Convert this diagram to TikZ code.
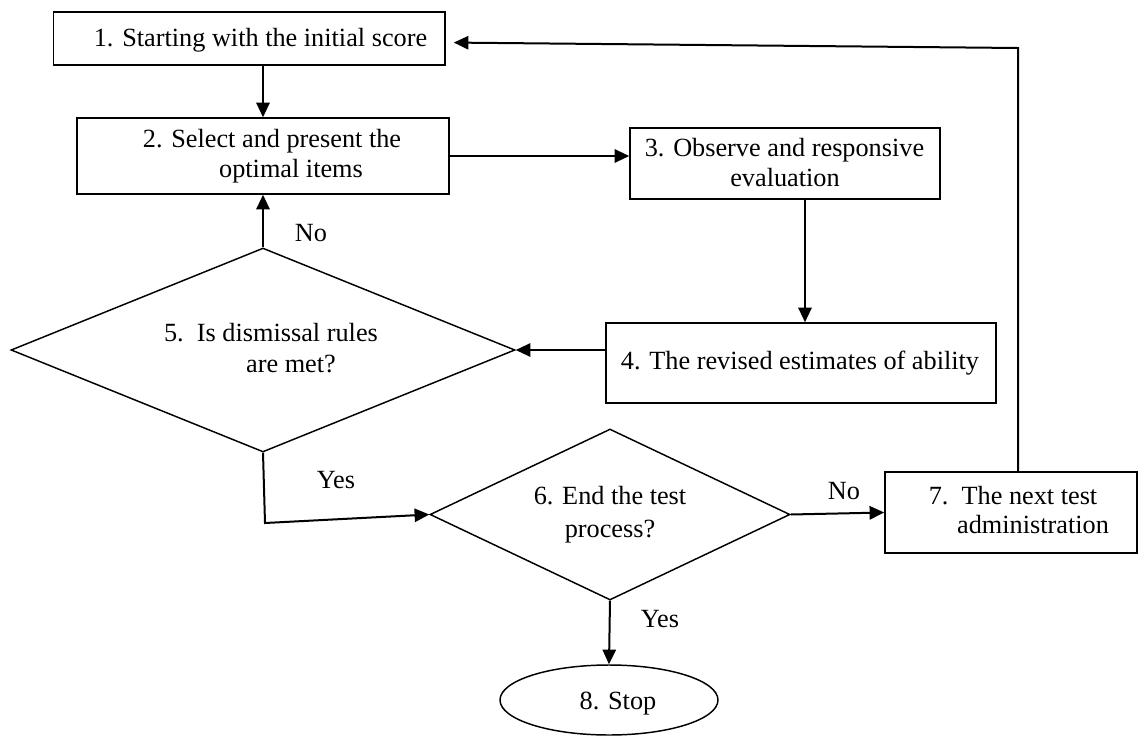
\documentclass[tikz,border=0pt]{standalone}
\usepackage{fontspec}
\setmainfont{Liberation Serif}
\usetikzlibrary{arrows.meta,shapes.geometric}
\begin{document}
\begin{tikzpicture}[x=0.75pt,y=-0.75pt,
  box/.style={draw, line width=1.1pt, rectangle, inner sep=0pt},
  dia/.style={draw, line width=1.1pt, diamond, inner sep=0pt},
  oval/.style={draw, line width=1.1pt, ellipse, inner sep=0pt},
  txt/.style={inner sep=0pt, text height=0.68em, text depth=0pt, font=\fontsize{19.7}{22}\selectfont},
  arr/.style={line width=1.5pt, -{Triangle[length=11pt,width=10pt]}},
  ln/.style={line width=1.5pt}]
\useasboundingbox (0,0) rectangle (1140,736);
% shapes
\node[box, minimum width=293.6pt, minimum height=39.75pt] (b1) at (249.3,38.5) {};
\node[box, minimum width=279pt, minimum height=57pt] (b2) at (263,156) {};
\node[box, minimum width=232.5pt, minimum height=53.25pt] (b3) at (785,163.5) {};
\node[box, minimum width=292.5pt, minimum height=60pt] (b4) at (801,363) {};
\node[dia, minimum width=378pt, minimum height=153pt] (d5) at (263,350) {};
\node[dia, minimum width=270pt, minimum height=128.25pt] (d6) at (610,514.5) {};
\node[box, minimum width=189pt, minimum height=60.75pt] (b7) at (1011,512.5) {};
\node[oval, minimum width=163.5pt, minimum height=52.5pt] (e8) at (609,700) {};
% texts
\node[txt] (t1) at (260.5,41.7) {1. Starting with the initial score};
\node[txt] (t2a) at (272,143) {2. Select and present the};
\node[txt] (t2b) at (291,173) {optimal items};
\node[txt] (t3a) at (784.5,152) {3. Observe and responsive};
\node[txt] (t3b) at (785,182) {evaluation};
\node[txt] (t4) at (800,365) {4. The revised estimates of ability};
\node[txt] (t5a) at (271,337) {5.\ \ Is dismissal rules};
\node[txt] (t5b) at (291,368) {are met?};
\node[txt] (t6a) at (610,500) {6. End the test};
\node[txt] (t6b) at (610,533) {process?};
\node[txt] (t7a) at (1013,500) {7.\ \ The next test};
\node[txt] (t7b) at (1033,529) {administration};
\node[txt] (t8) at (618,705) {8. Stop};
\node[txt] (l5no) at (311,237) {No};
\node[txt] (l5yes) at (336,484) {Yes};
\node[txt] (l6no) at (844,495) {No};
\node[txt] (l6yes) at (660,623) {Yes};
% connectors
\draw[arr] (b2.north |- b1.south) -- (b2.north);
\draw[arr] (b2.east) -- (b2.east -| b3.west);
\draw[arr] ([xshift=15pt]b3.south) -- ([xshift=15pt]b3.south |- b4.north);
\draw[arr] (b4.west |- d5.east) -- (d5.east);
\draw[arr] (d5.north) -- (b2.south);
\coordinate (yc) at (265,523);
\draw[arr] (d5.south) -- (yc) -- (d6.west);
\draw[arr] (d6.east) -- (b7.west);
\draw[arr] (d6.south) -- (e8.north);
\coordinate (rc) at (1018,48);
\draw[arr, shorten >=6pt] ([xshift=5.25pt]b7.north) -- (rc) -- ([yshift=-3pt]b1.east);
\end{tikzpicture}
\end{document}
